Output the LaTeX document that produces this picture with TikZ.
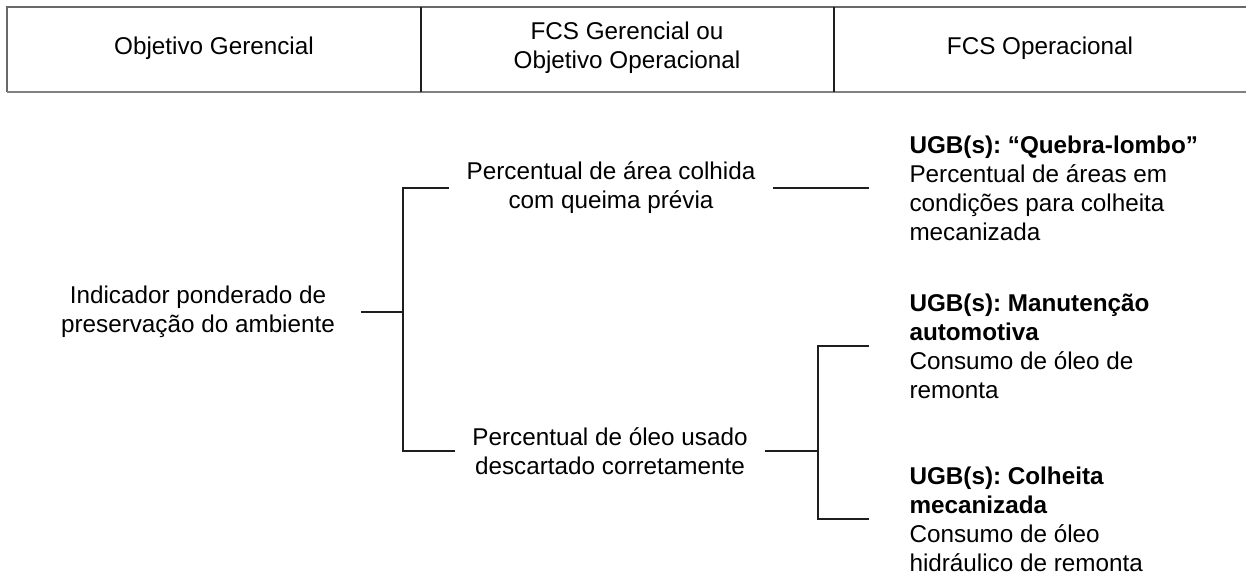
\documentclass[tikz,border=0pt]{standalone}
\usepackage{fontspec}
\setmainfont{Liberation Sans}
\frenchspacing
\definecolor{hdgray}{RGB}{105,105,105}
\definecolor{hdbottom}{RGB}{128,128,128}
\definecolor{treeline}{RGB}{30,30,30}
\newcommand{\txtsize}{\fontsize{18.2}{21.75}\selectfont}
\tikzset{every picture/.style={line width=0.75pt}}
\tikzset{
  headtext/.style={font=\txtsize, align=center, inner sep=0.75pt},
  treetext/.style={font=\txtsize, align=center, inner ysep=0.75pt},
  ugbtext/.style={font=\txtsize, align=left, anchor=west, inner ysep=0pt, inner xsep=30pt},
  treeconn/.style={draw=treeline, line width=1.1pt}
}

\begin{document}
\begin{tikzpicture}[x=0.75pt,y=0.75pt,yscale=-1,xscale=1]
\useasboundingbox (0,0) rectangle (1246,575);

%Header Box
\draw [hdgray, line width=1.1pt] (1246,7) -- (7,7) -- (7,92) ;
\draw [hdbottom, line width=1.6pt] (7,92) -- (1246,92) ;
\draw [treeline, line width=1pt] (421,7) -- (421,92) ;
\draw [treeline, line width=1pt] (834,7) -- (834,92) ;

% Text Node
\node [headtext] (hdger) at (214,48) {Objetivo Gerencial};
% Text Node
\node [headtext] (hdfcs) at (627,48) {FCS Gerencial ou\\Objetivo Operacional};
% Text Node
\node [headtext] (hdope) at (1040,48) {FCS Operacional};

% Text Node
\node [treetext, inner xsep=19pt] (indic) at (198,312) {Indicador ponderado de\\preservação do ambiente};
% Text Node
\node [treetext, inner xsep=12.5pt] (queima) at (611,188) {Percentual de área colhida\\com queima prévia};
% Text Node
\node [treetext, inner xsep=13pt] (oleo) at (610,451) {Percentual de óleo usado\\descartado corretamente};
% Text Node
\node [ugbtext] (ugbquebra) at (869,188) {\textbf{UGB(s): “Quebra-lombo”}\\Percentual de áreas em\\condições para colheita\\mecanizada};
% Text Node
\node [ugbtext] (ugbmanut) at (869,346) {\textbf{UGB(s): Manutenção}\\\textbf{automotiva}\\Consumo de óleo de\\remonta};
% Text Node
\node [ugbtext] (ugbcolh) at (869,519) {\textbf{UGB(s): Colheita}\\\textbf{mecanizada}\\Consumo de óleo\\hidráulico de remonta};

%Straight Lines
\coordinate (forkleft) at (403,312);
\coordinate (forkright) at (818,451);
\draw [treeconn] (indic.east) -- (forkleft) ;
\draw [treeconn] (queima.west) -| (forkleft) ;
\draw [treeconn] (oleo.west) -| (forkleft) ;
\draw [treeconn] (queima.east) -- (ugbquebra.west) ;
\draw [treeconn] (oleo.east) -- (forkright) ;
\draw [treeconn] (ugbmanut.west) -| (forkright) ;
\draw [treeconn] (ugbcolh.west) -| (forkright) ;

\end{tikzpicture}
\end{document}
